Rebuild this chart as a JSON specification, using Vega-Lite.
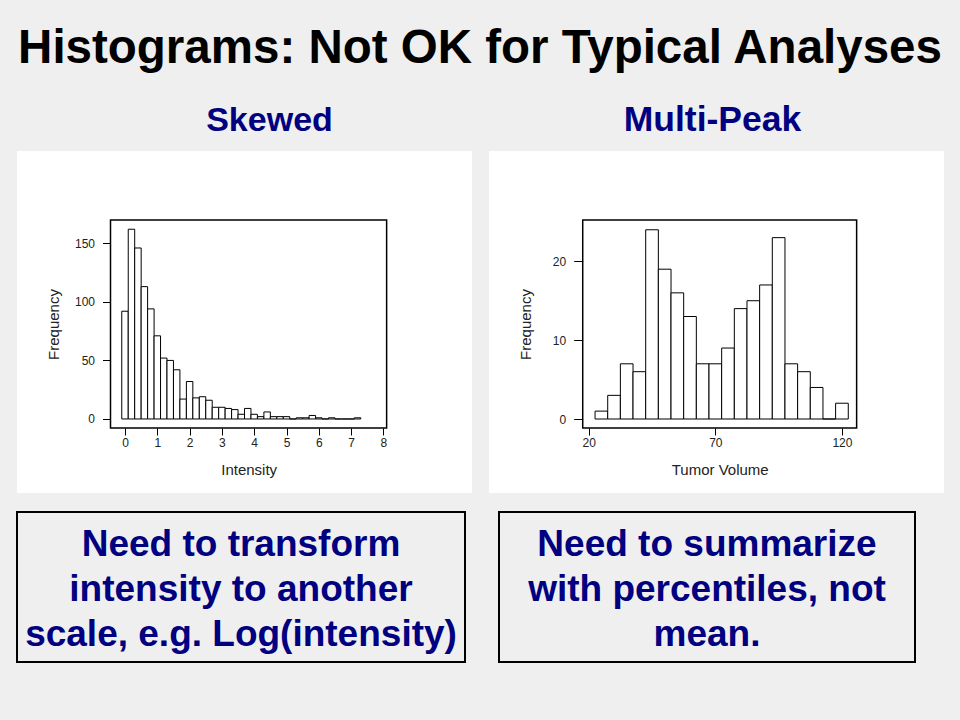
{
  "$schema": "https://vega.github.io/schema/vega-lite/v6.json",
  "background": "#efefef",
  "padding": {"left": 16, "top": 25, "right": 17, "bottom": 57},
  "title": {
    "text": "Histograms: Not OK for Typical Analyses",
    "font": "Liberation Sans",
    "fontSize": 47.5,
    "fontWeight": "bold",
    "color": "#000000",
    "anchor": "middle",
    "offset": 30
  },
  "config": {
    "view": {"stroke": null},
    "axis": {
      "domain": false,
      "grid": false,
      "ticks": true,
      "tickColor": "#000000",
      "tickWidth": 1,
      "tickSize": 7,
      "labelFont": "Liberation Sans",
      "labelFontSize": 12,
      "labelColor": "#222222",
      "labelFlush": false,
      "labelBound": false,
      "labelOverlap": false,
      "titleFont": "Liberation Sans",
      "titleFontSize": 15,
      "titleFontWeight": "normal",
      "titleColor": "#222222",
      "titleBaseline": "alphabetic",
      "titlePadding": 0
    }
  },
  "datasets": {
    "skewed": [
      {"bin_start": -0.1, "bin_end": 0.1, "count": 92},
      {"bin_start": 0.1, "bin_end": 0.3, "count": 162},
      {"bin_start": 0.3, "bin_end": 0.5, "count": 146},
      {"bin_start": 0.5, "bin_end": 0.7, "count": 113},
      {"bin_start": 0.7, "bin_end": 0.9, "count": 94},
      {"bin_start": 0.9, "bin_end": 1.1, "count": 71},
      {"bin_start": 1.1, "bin_end": 1.3, "count": 52},
      {"bin_start": 1.3, "bin_end": 1.5, "count": 50},
      {"bin_start": 1.5, "bin_end": 1.7, "count": 42},
      {"bin_start": 1.7, "bin_end": 1.9, "count": 17},
      {"bin_start": 1.9, "bin_end": 2.1, "count": 32},
      {"bin_start": 2.1, "bin_end": 2.3, "count": 18},
      {"bin_start": 2.3, "bin_end": 2.5, "count": 19},
      {"bin_start": 2.5, "bin_end": 2.7, "count": 16},
      {"bin_start": 2.7, "bin_end": 2.9, "count": 10},
      {"bin_start": 2.9, "bin_end": 3.1, "count": 10},
      {"bin_start": 3.1, "bin_end": 3.3, "count": 9},
      {"bin_start": 3.3, "bin_end": 3.5, "count": 8},
      {"bin_start": 3.5, "bin_end": 3.7, "count": 4},
      {"bin_start": 3.7, "bin_end": 3.9, "count": 9},
      {"bin_start": 3.9, "bin_end": 4.1, "count": 4},
      {"bin_start": 4.1, "bin_end": 4.3, "count": 2},
      {"bin_start": 4.3, "bin_end": 4.5, "count": 6},
      {"bin_start": 4.5, "bin_end": 4.7, "count": 2},
      {"bin_start": 4.7, "bin_end": 4.9, "count": 2},
      {"bin_start": 4.9, "bin_end": 5.1, "count": 2},
      {"bin_start": 5.1, "bin_end": 5.3, "count": 0},
      {"bin_start": 5.3, "bin_end": 5.5, "count": 1},
      {"bin_start": 5.5, "bin_end": 5.7, "count": 1},
      {"bin_start": 5.7, "bin_end": 5.9, "count": 3},
      {"bin_start": 5.9, "bin_end": 6.1, "count": 1},
      {"bin_start": 6.1, "bin_end": 6.3, "count": 0},
      {"bin_start": 6.3, "bin_end": 6.5, "count": 1},
      {"bin_start": 6.5, "bin_end": 6.7, "count": 0},
      {"bin_start": 6.7, "bin_end": 6.9, "count": 0},
      {"bin_start": 6.9, "bin_end": 7.1, "count": 0},
      {"bin_start": 7.1, "bin_end": 7.3, "count": 1}
    ],
    "multipeak": [
      {"bin_start": 22.5, "bin_end": 27.5, "count": 1},
      {"bin_start": 27.5, "bin_end": 32.5, "count": 3},
      {"bin_start": 32.5, "bin_end": 37.5, "count": 7},
      {"bin_start": 37.5, "bin_end": 42.5, "count": 6},
      {"bin_start": 42.5, "bin_end": 47.5, "count": 24},
      {"bin_start": 47.5, "bin_end": 52.5, "count": 19},
      {"bin_start": 52.5, "bin_end": 57.5, "count": 16},
      {"bin_start": 57.5, "bin_end": 62.5, "count": 13},
      {"bin_start": 62.5, "bin_end": 67.5, "count": 7},
      {"bin_start": 67.5, "bin_end": 72.5, "count": 7},
      {"bin_start": 72.5, "bin_end": 77.5, "count": 9},
      {"bin_start": 77.5, "bin_end": 82.5, "count": 14},
      {"bin_start": 82.5, "bin_end": 87.5, "count": 15},
      {"bin_start": 87.5, "bin_end": 92.5, "count": 17},
      {"bin_start": 92.5, "bin_end": 97.5, "count": 23},
      {"bin_start": 97.5, "bin_end": 102.5, "count": 7},
      {"bin_start": 102.5, "bin_end": 107.5, "count": 6},
      {"bin_start": 107.5, "bin_end": 112.5, "count": 4},
      {"bin_start": 112.5, "bin_end": 117.5, "count": 0},
      {"bin_start": 117.5, "bin_end": 122.5, "count": 2}
    ],
    "notes_left": [
      {"note": "Need to transform\nintensity to another\nscale, e.g. Log(intensity)"}
    ],
    "notes_right": [
      {"note": "Need to summarize\nwith percentiles, not\nmean."}
    ]
  },
  "spacing": 18,
  "vconcat": [
    {
      "spacing": 17,
      "hconcat": [
        {
          "width": 455,
          "height": 342,
          "view": {"fill": "#ffffff", "stroke": null},
          "title": {
            "text": "Skewed",
            "font": "Liberation Sans",
            "fontSize": 34,
            "fontWeight": "bold",
            "color": "#000080",
            "anchor": "middle",
            "dx": 25,
            "offset": 13
          },
          "layer": [
            {
              "data": {"name": "skewed"},
              "mark": {"type": "rect", "fill": "#ffffff", "stroke": "#000000", "strokeWidth": 1},
              "encoding": {
                "x": {
                  "field": "bin_start",
                  "type": "quantitative",
                  "title": "Intensity",
                  "scale": {"domain": [-3.344, 10.743], "nice": false, "zero": false},
                  "axis": {"values": [0, 1, 2, 3, 4, 5, 6, 7, 8], "offset": -65, "titleX": 231.7, "titleY": 46}
                },
                "x2": {"field": "bin_end"},
                "y": {
                  "field": "count",
                  "type": "quantitative",
                  "title": "Frequency",
                  "scale": {"domain": [-63.2, 228.8], "nice": false, "zero": false},
                  "axis": {"values": [0, 50, 100, 150], "offset": -93.5, "labelPadding": 8, "tickSize": 8, "titleX": -52.2, "titleY": 173, "titleAngle": 270}
                },
                "y2": {"datum": 0}
              }
            },
            {
              "data": {"values": [{}]},
              "mark": {"type": "rect", "fill": null, "stroke": "#000000", "strokeWidth": 1.5},
              "encoding": {
                "x": {"datum": -0.449},
                "x2": {"datum": 8.1},
                "y": {"datum": 169.9},
                "y2": {"datum": -7.68}
              }
            }
          ]
        },
        {
          "width": 455,
          "height": 342,
          "view": {"fill": "#ffffff", "stroke": null},
          "title": {
            "text": "Multi-Peak",
            "font": "Liberation Sans",
            "fontSize": 35.5,
            "fontWeight": "bold",
            "color": "#000080",
            "anchor": "middle",
            "dx": -4,
            "offset": 13
          },
          "layer": [
            {
              "data": {"name": "multipeak"},
              "mark": {"type": "rect", "fill": "#ffffff", "stroke": "#000000", "strokeWidth": 1},
              "encoding": {
                "x": {
                  "field": "bin_start",
                  "type": "quantitative",
                  "title": "Tumor Volume",
                  "scale": {"domain": [-19.38, 160.3], "nice": false, "zero": false},
                  "axis": {"values": [20, 70, 120], "offset": -65, "titleX": 230.7, "titleY": 46}
                },
                "x2": {"field": "bin_end"},
                "y": {
                  "field": "count",
                  "type": "quantitative",
                  "title": "Frequency",
                  "scale": {"domain": [-9.385, 33.99], "nice": false, "zero": false},
                  "axis": {"values": [0, 10, 20], "offset": -93.7, "labelPadding": 8, "tickSize": 9, "titleX": -52.2, "titleY": 173, "titleAngle": 270}
                },
                "y2": {"datum": 0}
              }
            },
            {
              "data": {"values": [{}]},
              "mark": {"type": "rect", "fill": null, "stroke": "#000000", "strokeWidth": 1.5},
              "encoding": {
                "x": {"datum": 17.63},
                "x2": {"datum": 125.8},
                "y": {"datum": 25.24},
                "y2": {"datum": -1.14}
              }
            }
          ]
        }
      ]
    },
    {
      "spacing": 32,
      "hconcat": [
        {
          "width": 448,
          "height": 150,
          "view": {"fill": null, "stroke": "#000000", "strokeWidth": 2},
          "data": {"name": "notes_left"},
          "mark": {"type": "text", "font": "Liberation Sans", "fontSize": 37, "fontWeight": "bold", "color": "#000080", "align": "center", "baseline": "middle", "lineBreak": "\n", "lineHeight": 45, "dy": -42},
          "encoding": {"text": {"field": "note", "type": "nominal"}}
        },
        {
          "width": 416,
          "height": 150,
          "view": {"fill": null, "stroke": "#000000", "strokeWidth": 2},
          "data": {"name": "notes_right"},
          "mark": {"type": "text", "font": "Liberation Sans", "fontSize": 37, "fontWeight": "bold", "color": "#000080", "align": "center", "baseline": "middle", "lineBreak": "\n", "lineHeight": 45, "dy": -42},
          "encoding": {"text": {"field": "note", "type": "nominal"}}
        }
      ]
    }
  ]
}
